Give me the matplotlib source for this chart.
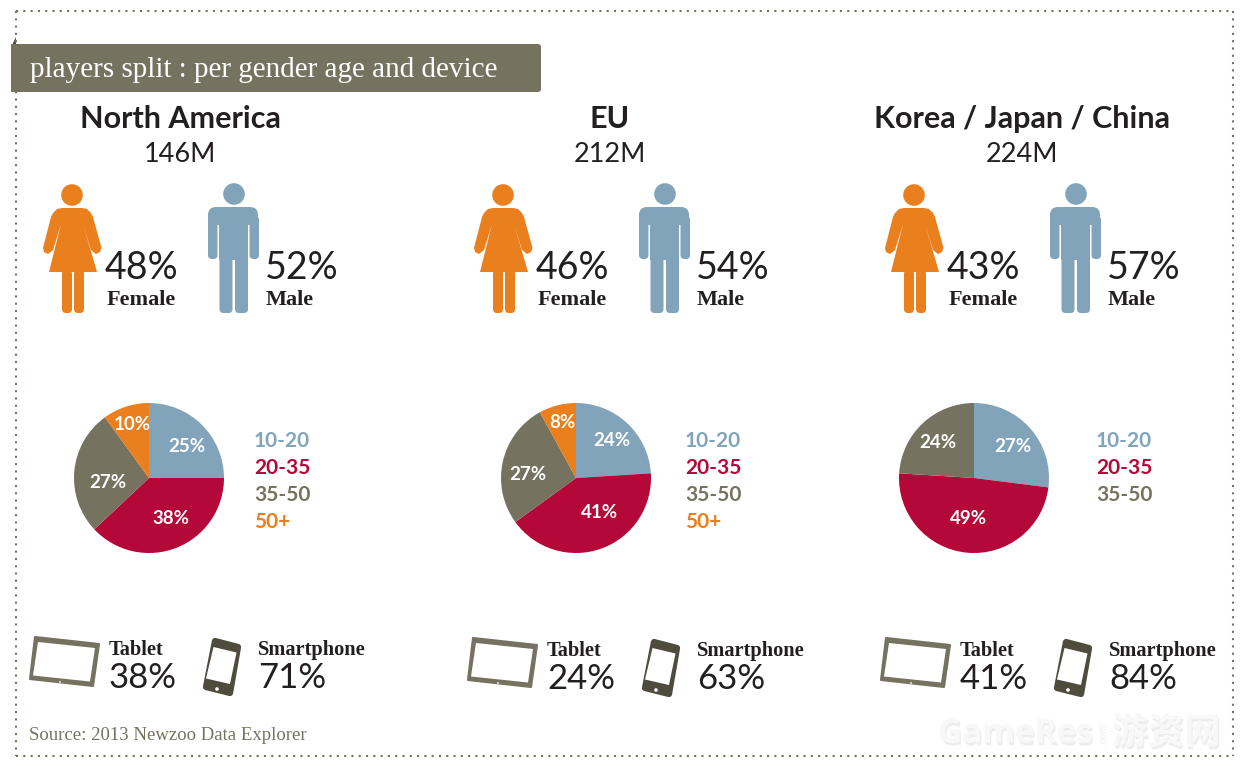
# -*- coding: utf-8 -*-

import matplotlib
matplotlib.use("Agg")
import matplotlib.pyplot as plt
import matplotlib.patheffects as pe
from matplotlib.patches import Circle, FancyBboxPatch, Polygon, Rectangle

W, H = 1243, 766

regions = ["North America", "EU", "Korea / Japan / China"]
totals = ["146M", "212M", "224M"]
female = [48, 46, 43]
male = [52, 54, 57]
tablet = [38, 24, 41]
smartphone = [71, 63, 84]
age_groups = ["10-20", "20-35", "35-50", "50+"]
age_na = [25, 38, 27, 10]
age_eu = [24, 41, 27, 8]
age_asia = [27, 49, 24]
title = "players split : per gender age and device"
source = "Source: 2013 Newzoo Data Explorer"

BLUE = "#82a4bb"
RED = "#b30838"
OLIVE = "#75735f"
ORANGE = "#ea7f1e"
DARK = "#231f20"
PHONE = "#4f4c3d"
age_colors = [BLUE, RED, OLIVE, ORANGE]

SANS = "Lato"
SERIF = "Liberation Serif"

# pie label spots in the original sit off the default radius
label_spots = [
    [(187, 447), (171, 519), (108, 482), (132, 425)],
    [(612, 441), (600, 512), (528, 475), (562, 423)],
    [(1013, 447), (969, 519), (938, 443)],
]


def draw_female(ax, dx):
    ax.add_patch(Circle((72 + dx, 195), 10.8, color=ORANGE, lw=0))
    body = [(62, 208), (82, 208), (87, 209), (91, 213), (93, 217), (101.5, 248), (100, 252),
            (96, 254), (91, 250), (83, 224), (97, 272), (49, 272), (61, 224), (53, 250),
            (48, 254), (44, 252), (43, 248), (51, 217), (53, 213), (57, 209)]
    ax.add_patch(Polygon([(x + dx, y) for x, y in body], color=ORANGE, lw=0))
    for x0 in (66, 78):
        ax.add_patch(FancyBboxPatch((x0 + dx, 274), 2, 35, boxstyle="round,pad=4",
                                    color=ORANGE, lw=0))


def draw_male(ax, dx):
    ax.add_patch(Circle((234 + dx, 194), 10.8, color=BLUE, lw=0))
    ax.add_patch(FancyBboxPatch((216 + dx, 215), 34, 2, boxstyle="round,pad=8",
                                color=BLUE, lw=0))
    ax.add_patch(Rectangle((219.5 + dx, 222), 28.5, 38, color=BLUE, lw=0))
    for x0 in (212, 253.5):
        ax.add_patch(FancyBboxPatch((x0 + dx, 220), 1.5, 35, boxstyle="round,pad=4",
                                    color=BLUE, lw=0))
    for x0 in (223.5, 239):
        ax.add_patch(FancyBboxPatch((x0 + dx, 258), 5, 51, boxstyle="round,pad=4",
                                    color=BLUE, lw=0))


def draw_tablet(ax, dx, dy):
    outer = [(35, 637), (99, 644), (93, 686), (30, 679)]
    inner = [(38, 642), (95, 648), (90, 681.5), (33, 675.5)]
    ax.add_patch(Polygon([(x + dx, y + dy) for x, y in outer], closed=True, color=OLIVE, lw=1.5,
                         joinstyle="round"))
    ax.add_patch(Polygon([(x + dx, y + dy) for x, y in inner], closed=True, color="white", lw=0))
    ax.add_patch(Circle((60 + dx, 682 + dy), 0.9, color="white", lw=0))


def draw_phone(ax, dx, dy):
    outer = [(215, 641), (238, 647), (230, 693), (206, 687)]
    screen = [(213.5, 647), (236.5, 652.5), (230, 684), (206, 678.5)]
    ax.add_patch(Polygon([(x + dx, y + dy) for x, y in outer], closed=True, color=PHONE, lw=4.5,
                         joinstyle="round"))
    ax.add_patch(Polygon([(x + dx, y + dy) for x, y in screen], closed=True, color="white", lw=0))
    ax.add_patch(Circle((217 + dx, 689 + dy), 1.8, color="white", lw=0))


def draw_pie(fig, cx, cy, r, values, spots):
    pie_ax = fig.add_axes([(cx - r) / W, 1 - (cy + r) / H, 2 * r / W, 2 * r / H])
    _, _, autotexts = pie_ax.pie(values, colors=age_colors[:len(values)], startangle=90,
                                 counterclock=False, autopct="%.0f%%",
                                 textprops={"color": "white", "fontsize": 13.5,
                                            "fontweight": "bold", "family": SANS})
    for txt, (sx, sy) in zip(autotexts, spots):
        txt.set_position(((sx - cx) / r, (cy - sy) / r))
    pie_ax.set_xlim(-1, 1)
    pie_ax.set_ylim(-1, 1)


fig = plt.figure(figsize=(W / 100, H / 100), dpi=100)
ax = fig.add_axes([0, 0, 1, 1])
ax.set_xlim(0, W)
ax.set_ylim(H, 0)
ax.axis("off")

# dotted border
border = dict(color=OLIVE, lw=1.5, ls=(0, (1, 2.5)))
ax.plot([16, 1233], [11, 11], **border)
ax.plot([16, 1233], [756, 756], **border)
ax.plot([16, 16], [11, 756], **border)
ax.plot([1233, 1233], [11, 756], **border)

# banner
ax.add_patch(Polygon([(12, 45), (16, 37), (16, 45)], color=PHONE, lw=0))
ax.add_patch(FancyBboxPatch((14, 47), 524, 42, boxstyle="round,pad=3", color=OLIVE, lw=0))
ax.add_patch(Rectangle((11, 44), 20, 48, color=OLIVE, lw=0))
ax.text(30, 70, title, color="white", fontsize=21, family=SERIF, va="center", ha="left")

title_x = [180, 610, 1022]
gender_dx = [0, 431, 842]
tablet_dx = [0, 438, 851]
phone_dx = [0, 439, 851]
device_dy = [0, 1, 1]
pie_x = [149, 576, 974]
legend_x = [254, 685, 1096]
pies = [age_na, age_eu, age_asia]

for i in range(3):
    ax.text(title_x[i], 119, regions[i], color=DARK, fontsize=22, family=SANS, weight="bold",
            ha="center", va="center")
    ax.text(title_x[i], 154, totals[i], color=DARK, fontsize=19.5, family=SANS,
            ha="center", va="center")

    dx = gender_dx[i]
    draw_female(ax, dx)
    draw_male(ax, dx)
    ax.text(105 + dx, 268, f"{female[i]}%", color=DARK, fontsize=27, family=SANS,
            ha="left", va="center")
    ax.text(265 + dx, 268, f"{male[i]}%", color=DARK, fontsize=27, family=SANS,
            ha="left", va="center")
    ax.text(107 + dx, 300, "Female", color=DARK, fontsize=16, family=SERIF, weight="bold",
            ha="left", va="center")
    ax.text(266 + dx, 300, "Male", color=DARK, fontsize=16, family=SERIF, weight="bold",
            ha="left", va="center")

    draw_pie(fig, pie_x[i], 478, 75, pies[i], label_spots[i])
    for j in range(len(pies[i])):
        ax.text(legend_x[i], 441 + 27 * j, age_groups[j], color=age_colors[j], fontsize=15,
                family=SANS, weight="bold", ha="left", va="center")

    draw_tablet(ax, tablet_dx[i], device_dy[i])
    draw_phone(ax, phone_dx[i], device_dy[i])
    tx = 109 + tablet_dx[i]
    px = 258 + phone_dx[i]
    ax.text(tx, 650 + device_dy[i], "Tablet", color=DARK, fontsize=14.7, family=SERIF, weight="bold",
            ha="left", va="center")
    ax.text(tx, 678 + device_dy[i], f"{tablet[i]}%", color=DARK, fontsize=25, family=SANS,
            ha="left", va="center")
    ax.text(px, 650 + device_dy[i], "Smartphone", color=DARK, fontsize=14.7, family=SERIF,
            weight="bold", ha="left", va="center")
    ax.text(px, 678 + device_dy[i], f"{smartphone[i]}%", color=DARK, fontsize=25, family=SANS,
            ha="left", va="center")

ax.text(29, 735, source, color=OLIVE, fontsize=13.5, family=SERIF, ha="left", va="center")

# watermark
shadow = [pe.withSimplePatchShadow(offset=(1, -2), shadow_rgbFace="#dddddd", alpha=0.5), pe.Normal()]
ax.text(938, 734, "GameRes", color="#f8f8f8", fontsize=24, family="Open Sans", weight="bold",
        ha="left", va="center", path_effects=shadow)
ax.text(1102, 733, ".com", color="#f8f8f8", fontsize=7, family="Open Sans", rotation=90,
        ha="center", va="center", path_effects=shadow)
ax.text(1112, 733, "游资网", color="#f8f8f8", fontsize=26,
        family=["Noto Sans CJK SC", "DejaVu Sans"], weight="bold", ha="left", va="center",
        path_effects=shadow)

fig.savefig("out.png", dpi=100)
